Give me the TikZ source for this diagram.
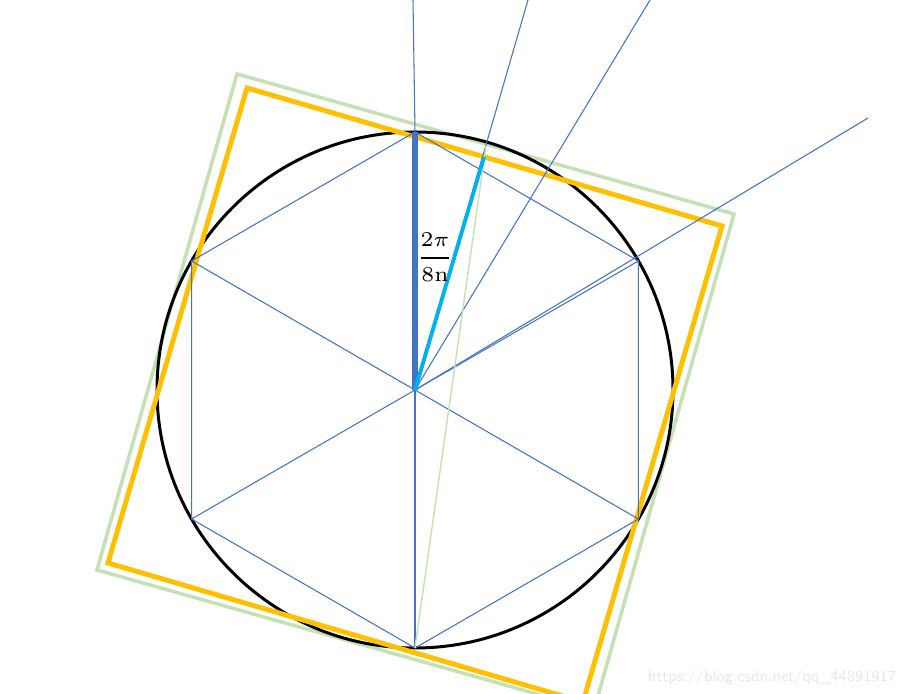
\documentclass[tikz,border=0pt]{standalone}
\usepackage{amsmath}
\usepackage{xcolor}
\definecolor{lineblue}{HTML}{4472C4}
\definecolor{skyblue}{HTML}{00B0F0}
\definecolor{gold}{HTML}{FFC000}
\definecolor{palegreen}{HTML}{C5E0B4}

\begin{document}
\begin{tikzpicture}[scale=1,
  thinline/.style={color=lineblue,line width=0.3pt},
  goldsq/.style={color=gold,line width=1.4pt},
  greensq/.style={color=palegreen,line width=1pt}]
\useasboundingbox (-4.15,-3.04) rectangle (4.89,3.90);
\coordinate (O) at (0,0);
\foreach \a/\n in {90/A,30/B,-30/C,-90/D,-150/E,150/F}
  \coordinate (\n) at (\a:2.58);

% the two squares
\draw [greensq] (-1.78,3.16) -- (3.19,1.76) -- (1.79,-3.20) -- (-3.18,-1.80) -- cycle;
\draw [line width=0.85pt] (O) circle[radius=2.58];
\draw [goldsq] (-1.68,3.02) -- (3.07,1.64) -- (1.68,-3.12) -- (-3.07,-1.73) -- cycle;

% hexagon and spokes
\draw [thinline] (A) -- (B) -- (C) -- (D) -- (E) -- (F) -- cycle;
\foreach \n in {A,B,C,D,E,F}
  \draw [thinline] (O) -- (\n);

% rays
\coordinate (G) at (0.71,2.44);
\draw [thinline] (A) -- (-0.02,3.90);
\draw [thinline] (O) -- (1.13,3.90);
\draw [thinline] (O) -- (2.35,3.90);
\draw [thinline] (O) -- (4.53,2.72);
\draw [color=palegreen,line width=0.4pt] (D) -- (G);

\draw [color=lineblue,line width=1.5pt] (O) -- (A);
\draw [color=skyblue,line width=1.1pt] (O) -- (0.69,2.33);
\node (lab) at (0.2,1.33) {\fontsize{6.4}{7}\selectfont$\dfrac{2\pi}{8\mathrm{n}}$};

\node [color=black!9,inner sep=0pt] (mark) at (3.57,-2.88) {\fontsize{4.4}{5}\selectfont\sffamily https://blog.csdn.net/qq\_44891917};
\end{tikzpicture}
\end{document}
